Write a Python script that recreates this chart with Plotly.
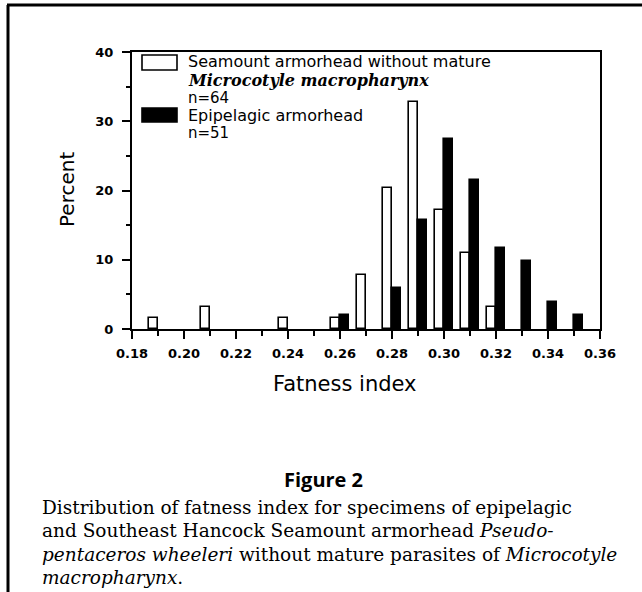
import plotly.graph_objects as go

# ---- data (percent per fatness-index bin) ----
bins_sea = [0.19, 0.21, 0.24, 0.26, 0.27, 0.28, 0.29, 0.30, 0.31, 0.32]
pct_sea = [1.56, 3.13, 1.56, 1.56, 7.81, 20.31, 32.81, 17.19, 10.94, 3.13]
bins_epi = [0.26, 0.28, 0.29, 0.30, 0.31, 0.32, 0.33, 0.34, 0.35]
pct_epi = [1.96, 5.88, 15.69, 27.45, 21.57, 11.76, 9.80, 3.92, 1.96]
x_ticks = [0.18, 0.20, 0.22, 0.24, 0.26, 0.28, 0.30, 0.32, 0.34, 0.36]
x_tick_labels = ["0.18", "0.20", "0.22", "0.24", "0.26", "0.28", "0.30", "0.32", "0.34", "0.36"]
y_ticks = [0, 10, 20, 30, 40]

W, H = 642, 592
L, R, T, B = 132, 42, 52, 263
PW, PH = W - L - R, H - T - B


def px(x):
    return (x - L) / PW


def py(y):
    return (H - B - y) / PH


SANS = "DejaVu Sans"
SERIF = "DejaVu Serif"
BW = 0.0035

fig = go.Figure()
fig.add_trace(go.Bar(x=bins_sea, y=pct_sea, width=BW, offset=-BW,
                     marker=dict(color="white", line=dict(color="black", width=1.6)),
                     showlegend=False))
fig.add_trace(go.Bar(x=bins_epi, y=pct_epi, width=BW, offset=0,
                     marker=dict(color="black", line=dict(color="black", width=1.6)),
                     showlegend=False))

shapes = []
anns = []
# legend boxes
shapes.append(dict(type="rect", xref="paper", yref="paper", x0=px(142), x1=px(177), y0=py(55), y1=py(70),
                   line=dict(color="black", width=1.6), fillcolor="white"))
shapes.append(dict(type="rect", xref="paper", yref="paper", x0=px(142), x1=px(177), y0=py(108), y1=py(122),
                   line=dict(color="black", width=1.6), fillcolor="black"))
leg_lines = [
    ("Seamount armorhead without mature", 62, SANS, 16, "normal", "normal"),
    ("Microcotyle macropharynx", 80, SERIF, 16, "bold", "italic"),
    ("n=64", 98, SANS, 15, "normal", "normal"),
    ("Epipelagic armorhead", 115, SANS, 16, "normal", "normal"),
    ("n=51", 133, SANS, 15, "normal", "normal"),
]
for txt, yy, fam, sz, wt, st in leg_lines:
    anns.append(dict(text=txt, xref="paper", yref="paper", x=px(186), y=py(yy), xanchor="left", yanchor="middle",
                     showarrow=False, font=dict(family=fam, size=sz, color="black", weight=wt, style=st)))

# axis titles
anns.append(dict(text="Percent", xref="paper", yref="paper", x=px(67), y=py(190), textangle=-90,
                 xanchor="center", yanchor="middle", showarrow=False,
                 font=dict(family=SANS, size=20, color="black")))
anns.append(dict(text="Fatness index", xref="paper", yref="paper", x=px(345), y=py(384),
                 xanchor="center", yanchor="middle", showarrow=False,
                 font=dict(family=SANS, size=21, color="black")))
# figure caption
anns.append(dict(text="<b>Figure 2</b>", xref="paper", yref="paper", x=px(323), y=py(479),
                 xanchor="center", yanchor="middle", showarrow=False,
                 font=dict(family="Open Sans", size=20, color="black")))
cap = [
    ("Distribution of fatness index for specimens of epipelagic", 507),
    ("and Southeast Hancock Seamount armorhead <i>Pseudo-</i>", 530),
    ("<i>pentaceros wheeleri</i> without mature parasites of <i>Microcotyle</i>", 554),
    ("<i>macropharynx</i>.", 577),
]
for txt, yy in cap:
    anns.append(dict(text=txt, xref="paper", yref="paper", x=px(40), y=py(yy), xanchor="left", yanchor="middle",
                     showarrow=False, font=dict(family=SERIF, size=18.5, color="black")))

# outer frame (top and left)
shapes.append(dict(type="line", xref="paper", yref="paper", x0=px(7), x1=px(642), y0=py(5), y1=py(5),
                   line=dict(color="black", width=3)))
shapes.append(dict(type="line", xref="paper", yref="paper", x0=px(8), x1=px(8), y0=py(5), y1=py(592),
                   line=dict(color="black", width=3)))

fig.update_layout(
    width=W, height=H, margin=dict(l=L, r=R, t=T, b=B),
    paper_bgcolor="white", plot_bgcolor="white",
    barmode="overlay", bargap=0,
    shapes=shapes, annotations=anns,
    xaxis=dict(range=[0.18, 0.36], tickvals=x_ticks, ticktext=x_tick_labels,
               ticks="outside", ticklen=8, tickwidth=2, tickcolor="black",
               showline=True, linecolor="black", linewidth=2, mirror=True,
               showgrid=False, zeroline=False, ticklabelstandoff=3,
               tickfont=dict(family=SANS, size=13, color="black", weight="bold"),
               minor=dict(dtick=0.01, tick0=0.18, ticks="outside", ticklen=5, tickwidth=2, tickcolor="black", showgrid=False)),
    yaxis=dict(range=[0, 40], tickvals=y_ticks,
               ticks="outside", ticklen=8, tickwidth=2, tickcolor="black",
               showline=True, linecolor="black", linewidth=2, mirror=True,
               showgrid=False, zeroline=False, ticklabelstandoff=6,
               tickfont=dict(family=SANS, size=13, color="black", weight="bold"),
               minor=dict(dtick=5, tick0=0, ticks="outside", ticklen=4, tickwidth=2, tickcolor="black", showgrid=False)),
)
fig.write_html("out.html", config={"displayModeBar": False},
               post_script="document.body.style.margin='0px';")
